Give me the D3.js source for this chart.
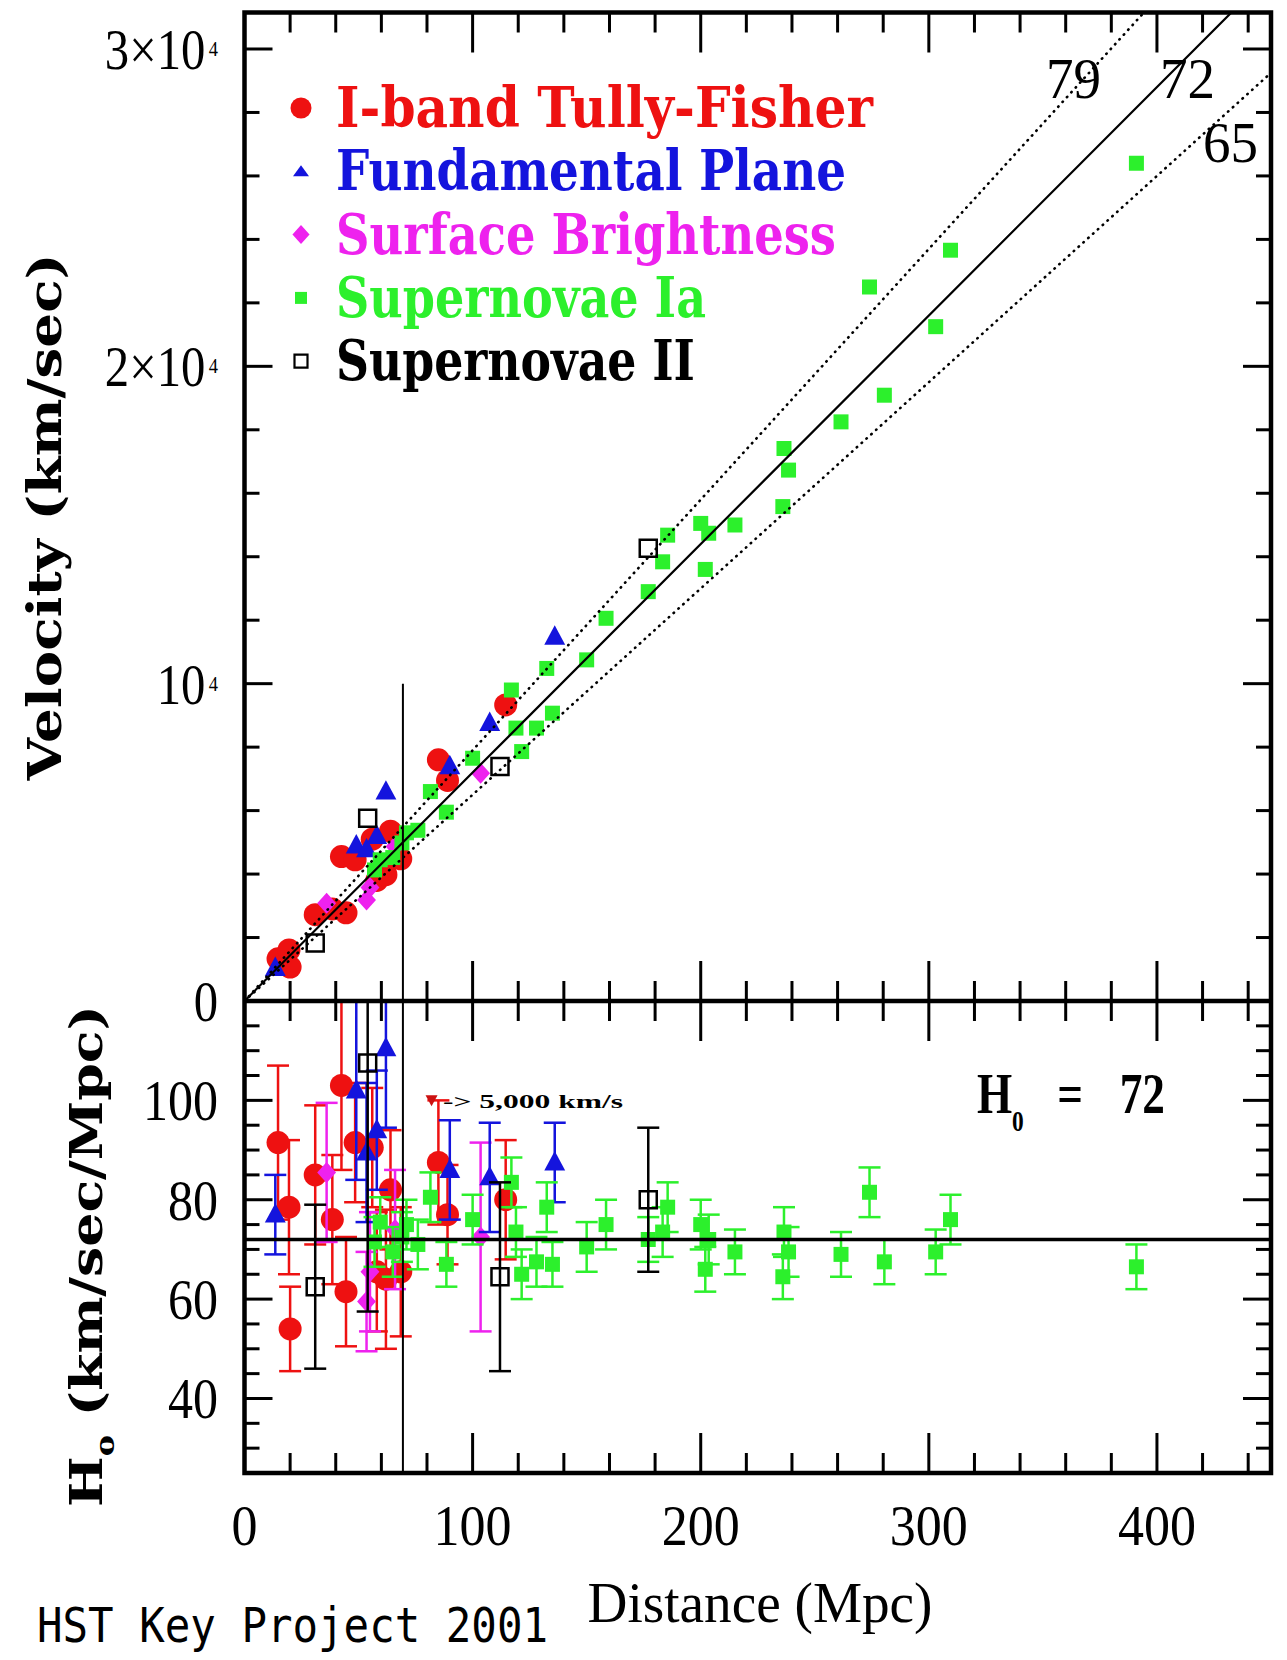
<!DOCTYPE html>
<html lang="en">
<head>
<meta charset="UTF-8">
<title>Hubble diagram - HST Key Project 2001</title>
<script src="https://cdn.jsdelivr.net/npm/d3@7/dist/d3.min.js"></script>
<style>
  body { margin: 0; background: #fff; }
  svg { display: block; }
</style>
</head>
<body>
<svg id="hubble" width="1287" height="1660" viewBox="0 0 1287 1660"></svg>
<script>
// ---------------- data ----------------
// I-band Tully-Fisher (distance Mpc, velocity km/s, H0, H0 error)
const tfDist = [14.7, 19.5, 20, 31, 38.5, 42.5, 44.5, 48.5, 56, 58, 62, 64, 68.5, 85, 89, 114.5];
const tfVel  = [1330, 1610, 1070, 2720, 2900, 4550, 2780, 4450, 5100, 3800, 3980, 5350, 4480, 7600, 6950, 9330];
const tfH0   = [91.5, 78.5, 54, 85, 76, 103, 61.5, 91.5, 90.5, 65.5, 64, 82, 65.5, 87.5, 77, 80];
const tfErr  = [15.5, 13.5, 8.5, 14, 13, 17, 11, 12, 12, 12, 14, 12, 13, 12.5, 10, 12];

// Fundamental Plane
const fpDist = [13.5, 49, 53.5, 58, 62, 90, 107.5, 136];
const fpVel  = [1040, 4900, 4780, 5200, 6600, 7400, 8760, 11480];
const fpH0   = [77, 102, 89.5, 94, 110.5, 86, 84.5, 87.5];
const fpErr  = [8, 18, 14, 12, 16, 10, 11, 8];

// Surface Brightness fluctuations
const sbDist = [36, 53.5, 55, 66, 103.5];
const sbVel  = [3080, 3180, 3580, 4870, 7180];
const sbH0   = [85.5, 59.5, 65.5, 74, 72.5];
const sbErr  = [14, 10, 12, 12, 19];

// Supernovae Ia
const iaDist = [57, 59.5, 65, 69, 71, 76, 81.5, 88.5, 100, 117, 119, 121.5, 128, 135, 132.5, 150, 158.5,
                177, 183.3, 185.5, 200, 203.5, 202, 215, 236, 236.5, 238.5, 261.5, 274, 280.5, 303, 309.5, 391];
const iaVel  = [4130, 4450, 4520, 4980, 5300, 5380, 6600, 5950, 7650, 9800, 8600, 7860, 8600, 9070, 10480, 10750, 12060,
                12900, 13840, 14680, 15050, 14740, 13600, 15000, 15580, 17410, 16730, 18250, 22500, 19090, 21250, 23660, 26400];
const iaH0   = [71.5, 75.5, 69.5, 72.5, 75, 71, 80.5, 67, 76, 83.5, 73.5, 65, 67.5, 67, 78.5, 70.5, 75,
                72, 73.5, 78.5, 75, 72, 66, 69.5, 64.5, 73.5, 69.5, 69, 81.5, 67.5, 69.5, 76, 66.5];
const iaErr  = [5, 5, 5, 5, 5, 5, 5, 4.5, 5, 5, 5, 5, 5, 4.5, 5, 5, 5,
                4.5, 5, 5, 5, 5, 4.5, 4.5, 4.5, 5, 5, 4.5, 5, 4.5, 4.5, 5, 4.5];

// Supernovae II
const snDist = [31, 54, 112, 177];
const snVel  = [1830, 5760, 7390, 14265];
const snH0   = [62.5, 107.5, 64.5, 80];
const snErr  = [16.5, 50, 19, 14.5];

const seriesNames   = ['I-band Tully-Fisher', 'Fundamental Plane', 'Surface Brightness', 'Supernovae Ia', 'Supernovae II'];
const seriesColours = ['#ee1111', '#1414dd', '#ee22ee', '#2cf02c', '#000000'];

const hubbleRates = [79, 72, 65];
const bestH0 = 72;
const cutVelocity = 5000;

const distLabels = [0, 100, 200, 300, 400];
const velLabelValues = [0, 10000, 20000, 30000];
const velLabelBase = ['0', '10', '2\u00d710', '3\u00d710'];
const velLabelExp  = ['', '4', '4', '4'];
const h0Labels = [40, 60, 80, 100];

// ---------------- setup ----------------
let svg = d3.select('svg#hubble');
svg.append('rect').attr('width', 1287).attr('height', 1660).attr('fill', '#fff');

let pLeft = 244.5, pRight = 1271, pTop = 12.5, pMid = 1001, pBottom = 1473;
let x  = d3.scaleLinear().domain([0, 450]).range([pLeft, pRight]);
let yV = d3.scaleLinear().domain([0, 31150]).range([pMid, pTop]);
let yH = d3.scaleLinear().domain([25, 120]).range([pBottom, pMid]);

let defs = svg.append('defs');
defs.append('clipPath').attr('id', 'clipUp').append('rect')
    .attr('x', pLeft).attr('y', pTop).attr('width', pRight - pLeft).attr('height', pMid - pTop);
defs.append('clipPath').attr('id', 'clipLow').append('rect')
    .attr('x', pLeft).attr('y', pMid).attr('width', pRight - pLeft).attr('height', pBottom - pMid);

const SERIF = '"Liberation Serif", "Times New Roman", serif';
const BOLDSERIF = '"DejaVu Serif", "Liberation Serif", serif';

function txt(g, str, o) {
    let t = g.append('text')
        .attr('x', o.x).attr('y', o.y)
        .attr('font-family', o.family || SERIF)
        .attr('font-size', o.size)
        .attr('font-weight', o.weight || 'normal')
        .attr('text-anchor', o.anchor || 'start')
        .attr('fill', o.fill || '#000')
        .text(str);
    if (o.len) t.attr('textLength', o.len).attr('lengthAdjust', 'spacingAndGlyphs');
    if (o.transform) t.attr('transform', o.transform);
    return t;
}

function symbolPath(shape, s) {
    if (shape === 'circle') return d3.symbol(d3.symbolCircle, Math.PI * s * s / 4)();
    if (shape === 'triangle') return `M0,${-s * 0.6}L${s * 0.55},${s * 0.42}L${-s * 0.55},${s * 0.42}Z`;
    if (shape === 'diamond') return `M0,${-s / 2}L${s * 0.45},0L0,${s / 2}L${-s * 0.45},0Z`;
    return `M${-s / 2},${-s / 2}h${s}v${s}h${-s}Z`;
}

let series = [
    {name: seriesNames[0], colour: seriesColours[0], shape: 'circle',   size: 23, lsize: 21, dist: tfDist, vel: tfVel, h0: tfH0, err: tfErr},
    {name: seriesNames[1], colour: seriesColours[1], shape: 'triangle', size: 19, lsize: 15, dist: fpDist, vel: fpVel, h0: fpH0, err: fpErr},
    {name: seriesNames[2], colour: seriesColours[2], shape: 'diamond',  size: 21, lsize: 19, dist: sbDist, vel: sbVel, h0: sbH0, err: sbErr},
    {name: seriesNames[3], colour: seriesColours[3], shape: 'square',   size: 15, lsize: 12, dist: iaDist, vel: iaVel, h0: iaH0, err: iaErr},
    {name: seriesNames[4], colour: seriesColours[4], shape: 'open',     size: 17, lsize: 13, dist: snDist, vel: snVel, h0: snH0, err: snErr}
];
series.forEach(s => {
    s.points = d3.zip(s.dist, s.vel, s.h0, s.err).map(([d, v, h, e]) => ({d: d, v: v, h: h, e: e}));
});
let drawOrder = [0, 2, 1, 3, 4];

// ---------------- points ----------------
let upG = svg.append('g').attr('clip-path', 'url(#clipUp)');
let lowG = svg.append('g').attr('clip-path', 'url(#clipLow)');

drawOrder.forEach(i => {
    let s = series[i];
    let open = s.shape === 'open';

    // upper panel: velocity vs distance
    upG.append('g').selectAll('path')
        .data(s.points)
        .join('path')
        .attr('d', symbolPath(s.shape, s.size))
        .attr('transform', d => `translate(${x(d.d)},${yV(d.v)})`)
        .attr('fill', open ? 'none' : s.colour)
        .attr('stroke', open ? s.colour : 'none')
        .attr('stroke-width', 2.5);

    // lower panel: error bars + H0 markers
    let eb = lowG.append('g').attr('stroke', s.colour).attr('stroke-width', 2.5);
    eb.selectAll('line.bar').data(s.points).join('line').attr('class', 'bar')
        .attr('x1', d => x(d.d)).attr('x2', d => x(d.d))
        .attr('y1', d => yH(d.h - d.e)).attr('y2', d => yH(d.h + d.e));
    eb.selectAll('line.capHi').data(s.points).join('line').attr('class', 'capHi')
        .attr('x1', d => x(d.d) - 11).attr('x2', d => x(d.d) + 11)
        .attr('y1', d => yH(d.h + d.e)).attr('y2', d => yH(d.h + d.e));
    eb.selectAll('line.capLo').data(s.points).join('line').attr('class', 'capLo')
        .attr('x1', d => x(d.d) - 11).attr('x2', d => x(d.d) + 11)
        .attr('y1', d => yH(d.h - d.e)).attr('y2', d => yH(d.h - d.e));

    lowG.append('g').selectAll('path')
        .data(s.points)
        .join('path')
        .attr('d', symbolPath(s.shape, s.size))
        .attr('transform', d => `translate(${x(d.d)},${yH(d.h)})`)
        .attr('fill', open ? 'none' : s.colour)
        .attr('stroke', open ? s.colour : 'none')
        .attr('stroke-width', 2.5);
});

// ---------------- Hubble lines ----------------
let hLine = d3.line().x(d => x(d[0])).y(d => yV(d[1]));
upG.selectAll('path.hubble')
    .data(hubbleRates)
    .join('path')
    .attr('class', 'hubble')
    .attr('d', h => hLine([[0, 0], [450, 450 * h]]))
    .attr('fill', 'none')
    .attr('stroke', '#000')
    .attr('stroke-width', h => h === bestH0 ? 2.2 : 2.6)
    .attr('stroke-linecap', 'round')
    .attr('stroke-dasharray', h => h === bestH0 ? null : '0.5,6');

// H0 = 72 in lower panel
lowG.append('line')
    .attr('x1', x(0)).attr('x2', x(450))
    .attr('y1', yH(bestH0)).attr('y2', yH(bestH0))
    .attr('stroke', '#000').attr('stroke-width', 3.5);

// 5000 km/s cut
let dCut = cutVelocity / bestH0;
svg.append('line')
    .attr('x1', x(dCut)).attr('x2', x(dCut))
    .attr('y1', yV(10000)).attr('y2', yH(25))
    .attr('stroke', '#000').attr('stroke-width', 2);

// ---------------- frames & ticks ----------------
let axG = svg.append('g').attr('stroke', '#000').attr('stroke-width', 3);
let xTickVals = d3.range(0, 450, 20);
[[pTop, 1], [pMid, -1], [pMid, 1], [pBottom, -1]].forEach(([yy, dir]) => {
    axG.append('g').selectAll('line').data(xTickVals).join('line')
        .attr('x1', d => x(d)).attr('x2', d => x(d))
        .attr('y1', yy).attr('y2', d => yy + dir * (d % 100 === 0 ? 40 : 20));
});
let vTickVals = d3.range(0, 31001, 2000);
let hTickVals = d3.range(25, 121, 5);
[[pLeft, 1], [pRight, -1]].forEach(([xx, dir]) => {
    axG.append('g').selectAll('line').data(vTickVals).join('line')
        .attr('y1', d => yV(d)).attr('y2', d => yV(d))
        .attr('x1', xx).attr('x2', d => xx + dir * (d % 10000 === 0 ? 28 : 15));
    axG.append('g').selectAll('line').data(hTickVals).join('line')
        .attr('y1', d => yH(d)).attr('y2', d => yH(d))
        .attr('x1', xx).attr('x2', d => xx + dir * (d % 20 === 0 ? 28 : 15));
});
svg.append('rect')
    .attr('x', pLeft).attr('y', pTop).attr('width', pRight - pLeft).attr('height', pBottom - pTop)
    .attr('fill', 'none').attr('stroke', '#000').attr('stroke-width', 4.5);
svg.append('line')
    .attr('x1', pLeft).attr('x2', pRight).attr('y1', pMid).attr('y2', pMid)
    .attr('stroke', '#000').attr('stroke-width', 4.5);

// ---------------- tick labels ----------------
let lab = svg.append('g');
distLabels.forEach(d => {
    txt(lab, String(d), {x: x(d), y: 1545, size: 58, anchor: 'middle', len: 26 * String(d).length});
});
velLabelValues.forEach((v, i) => {
    let base = velLabelBase[i], ex = velLabelExp[i];
    let t = lab.append('text')
        .attr('transform', `translate(218,${yV(v) + 20}) scale(0.84,1)`)
        .attr('font-family', SERIF).attr('font-size', 58)
        .attr('text-anchor', 'end');
    t.append('tspan').text(base);
    if (ex) t.append('tspan').attr('font-size', 22).attr('dx', 4).attr('dy', -13).text(ex);
});
h0Labels.forEach(h => {
    txt(lab, String(h), {x: 218, y: yH(h) + 20, size: 58, anchor: 'end', len: 25 * String(h).length});
});

// labels of the Hubble lines
txt(lab, '79', {x: 1046, y: 98, size: 58, len: 55});
txt(lab, '72', {x: 1160, y: 98, size: 58, len: 55});
txt(lab, '65', {x: 1203, y: 162, size: 58, len: 55});

// ---------------- axis titles ----------------
txt(lab, 'Distance (Mpc)', {x: 760, y: 1622, size: 58, anchor: 'middle', len: 345});
txt(lab, 'Velocity (km/sec)', {x: 0, y: 0, size: 46, weight: 'bold', family: BOLDSERIF, anchor: 'middle',
    len: 527, transform: 'translate(61,517) rotate(-90)'});
let h0Title = lab.append('text')
    .attr('transform', 'translate(102,1256) rotate(-90)')
    .attr('text-anchor', 'middle')
    .attr('font-family', BOLDSERIF).attr('font-weight', 'bold').attr('font-size', 44)
    .attr('textLength', 502).attr('lengthAdjust', 'spacingAndGlyphs');
h0Title.append('tspan').text('H');
h0Title.append('tspan').attr('font-size', 26).attr('dy', 12).text('o');
h0Title.append('tspan').attr('dy', -12).text(' (km/sec/Mpc)');

txt(lab, 'HST Key Project 2001', {x: 37, y: 1642, size: 48, family: '"DejaVu Sans Mono", monospace', len: 511});

// ---------------- lower panel annotations ----------------
let h0Note = lab.append('text')
    .attr('transform', 'translate(977,1113) scale(0.78,1)')
    .attr('font-family', SERIF).attr('font-weight', 'bold').attr('font-size', 58);
h0Note.append('tspan').attr('x', 0).text('H');
h0Note.append('tspan').attr('x', 45).attr('dy', 18).attr('font-size', 30).text('0');
h0Note.append('tspan').attr('x', 103).attr('dy', -18).text('=');
h0Note.append('tspan').attr('x', 183).text(String(bestH0));

lab.append('path')
    .attr('d', 'M-6,-5L6,-5L0,6Z')
    .attr('transform', `translate(${x(82)},${yH(100)})`)
    .attr('fill', '#cc1111');
txt(lab, '-> 5,000 km/s', {x: 443, y: 1108, size: 19, weight: 'bold', len: 180});

// ---------------- legend ----------------
let leg = svg.append('g');
let legendLens = [537, 510, 500, 370, 359];
series.forEach((s, i) => {
    let by = 127 + i * 63.3;
    let open = s.shape === 'open';
    let p = s.shape === 'triangle' ? 'M0,-6L8,5L-8,5Z' : symbolPath(s.shape, s.lsize);
    leg.append('path')
        .attr('d', p)
        .attr('transform', `translate(301,${by - 19})`)
        .attr('fill', open ? 'none' : s.colour)
        .attr('stroke', open ? s.colour : 'none')
        .attr('stroke-width', 2.2);
    txt(leg, s.name, {x: 336, y: by, size: 56, weight: 'bold', family: BOLDSERIF, fill: s.colour, len: legendLens[i]});
});
</script>
</body>
</html>
